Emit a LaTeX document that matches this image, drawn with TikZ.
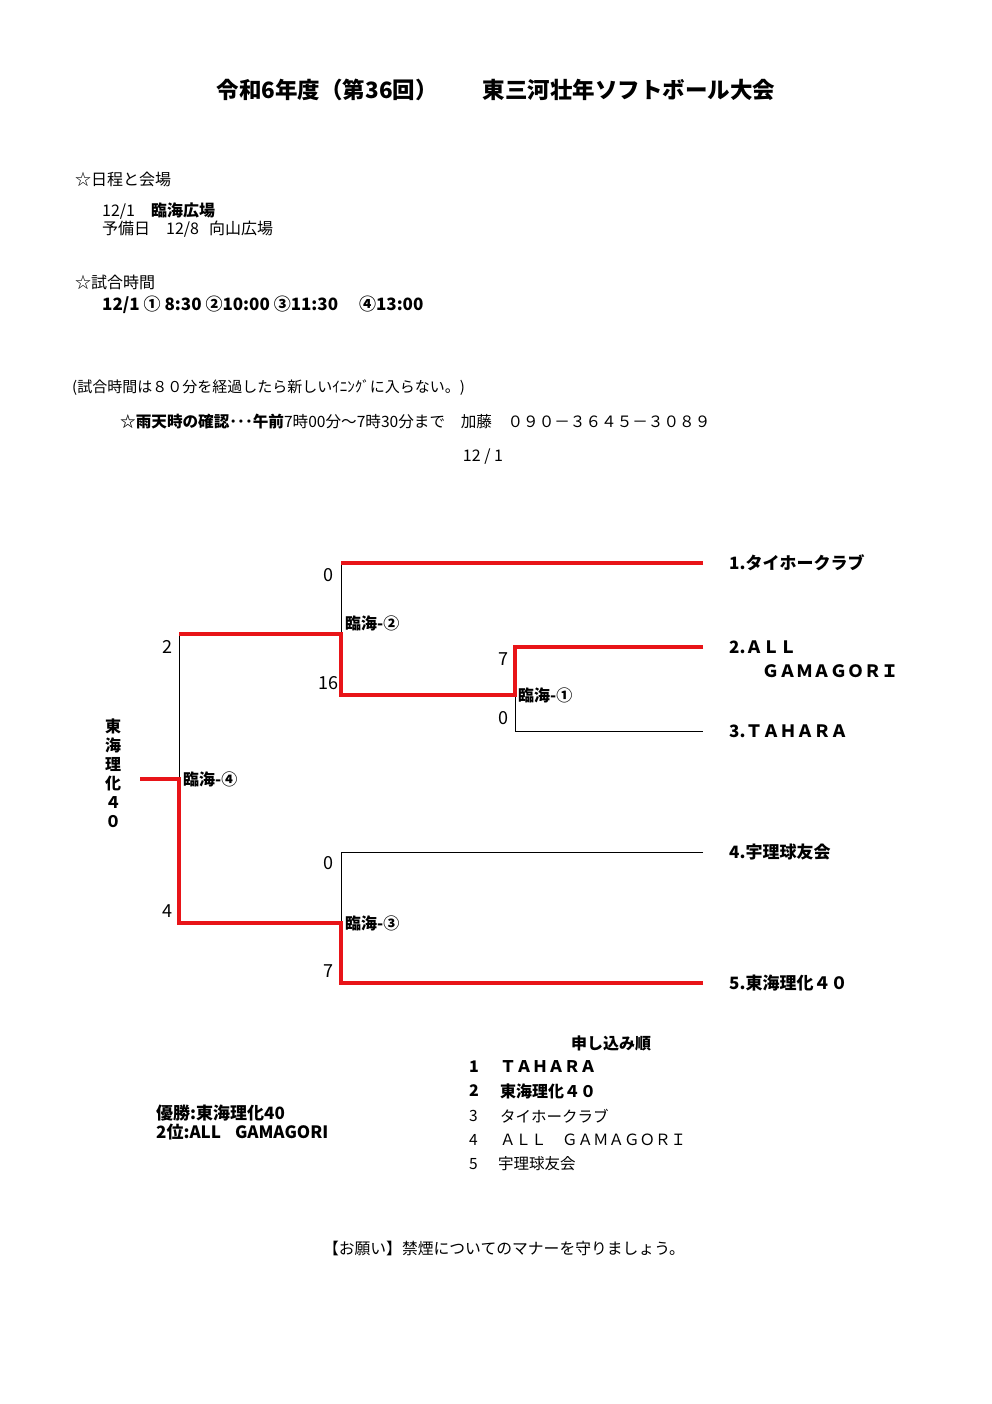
\documentclass[tikz,border=0pt]{standalone}
\usepackage{fontspec}
\setmainfont{Noto Sans CJK JP}
\definecolor{bred}{RGB}{232,20,24}
\newcommand\fsz[1]{\fontsize{#1}{#1}\selectfont}
\begin{document}
\begin{tikzpicture}[x=1pt,y=-1pt,
  txt/.style={inner sep=0pt,anchor=west},
  ctxt/.style={inner sep=0pt,anchor=center},
  redline/.style={draw=bred,line width=4pt,line join=miter},
  blkline/.style={draw=black,line width=1pt},
  team/.style={txt,font=\fsz{17}\bfseries},
  score/.style={ctxt,font=\fsz{18}},
  match/.style={txt,font=\fsz{16}\bfseries}]
\useasboundingbox (0,0) rectangle (992,1404);
\fill[white] (0,0) rectangle (992,1404);
% title
\node[ctxt,font=\fsz{22.5}\bfseries] (title) at (496,90) {令和6年度（第36回）　　東三河壮年ソフトボール大会};
% header
\node[txt,font=\fsz{16}] (h1) at (75,179) {☆日程と会場};
\node[txt,font=\fsz{16}] (h2) at (102,211) {12/1　\textbf{臨海広場}};
\node[txt,font=\fsz{16}] (h3) at (102,229) {予備日　12/8\hspace{10pt}向山広場};
\node[txt,font=\fsz{16}] (h4) at (75,282) {☆試合時間};
\node[txt,font=\fsz{17}\bfseries] (h5) at (102,305) {12/1 ① 8:30  ②10:00  ③11:30 　④13:00};
\node[txt,font=\fsz{15}] (h6) at (72,388) {(試合時間は８０分を経過したら新しいｲﾆﾝｸﾞに入らない。)};
\node[txt,font=\fsz{15.6}] (h7) at (120,422) {\textbf{☆雨天時の確認･･･午前}7時00分～7時30分まで　加藤　０９０－３６４５－３０８９};
\node[ctxt,font=\fsz{16}] (h8) at (483,457) {12 / 1};
% bracket coordinates
\coordinate (t1) at (703,563);
\coordinate (t2) at (703,647);
\coordinate (t3) at (703,731);
\coordinate (t4) at (703,852);
\coordinate (t5) at (703,983);
\coordinate (m1t) at (515,647);
\coordinate (m1) at (515,695);
\coordinate (m1b) at (515,731);
\coordinate (m2t) at (341,563);
\coordinate (m2) at (341,634);
\coordinate (m2b) at (341,695);
\coordinate (m3t) at (341,852);
\coordinate (m3) at (341,923);
\coordinate (m3b) at (341,983);
\coordinate (m4t) at (179,634);
\coordinate (m4) at (179,779);
\coordinate (m4b) at (179,923);
\coordinate (champ) at (140,779);
% black lines
\draw[blkline] (m1) -- (m1b) -- (t3);
\draw[blkline] (m2t) -- (m2);
\draw[blkline] (t4) -- (m3t) -- (m3);
\draw[blkline] (m4t) -- (m4);
% red lines
\draw[redline] (t1) -- (m2t);
\draw[redline] (t2) -- (m1t) -- (m1) -- (m2b) -- (m2) -- (m4t);
\draw[redline] (t5) -- (m3b) -- (m3) -- (m4b) -- (m4) -- (champ);
% team labels
\node[team] (n1) at (729,563) {1.タイホークラブ};
\node[team] (n2) at (729,647) {2.ＡＬＬ};
\node[team] (n2b) at (762,671) {ＧＡＭＡＧＯＲＩ};
\node[team] (n3) at (729,731) {3.ＴＡＨＡＲＡ};
\node[team] (n4) at (729,852) {4.宇理球友会};
\node[team] (n5) at (729,983) {5.東海理化４０};
% match labels
\node[match] (k1) at (518,695) {臨海-①};
\node[match] (k2) at (345,623) {臨海-②};
\node[match] (k3) at (345,923) {臨海-③};
\node[match] (k4) at (183,779) {臨海-④};
% scores
\node[score] (s1a) at (503,659) {7};
\node[score] (s1b) at (503,718) {0};
\node[score] (s2a) at (328,575) {0};
\node[score] (s2b) at (328,683) {16};
\node[score] (s3a) at (328,863) {0};
\node[score] (s3b) at (328,971) {7};
\node[score] (s4a) at (167,647) {2};
\node[score] (s4b) at (167,911) {4};
% champion vertical
\node[ctxt,font=\fsz{16}\bfseries,align=center] (v) at (113,773) {東\\[3pt]海\\[3pt]理\\[3pt]化\\[3pt]４\\[3pt]０};
% results
\node[txt,font=\fsz{17}\bfseries] (r1) at (156,1113) {優勝:東海理化40};
\node[txt,font=\fsz{17}\bfseries] (r2) at (156,1132) {2位:ALL\hspace{14pt}GAMAGORI};
% entry order
\node[ctxt,font=\fsz{16}\bfseries] (e0) at (611,1043) {申し込み順};
\node[txt,font=\fsz{16}\bfseries] (e1n) at (469,1067) {1};
\node[txt,font=\fsz{16}\bfseries] (e1) at (500,1067) {ＴＡＨＡＲＡ};
\node[txt,font=\fsz{16}\bfseries] (e2n) at (469,1091) {2};
\node[txt,font=\fsz{16}\bfseries] (e2) at (500,1091) {東海理化４０};
\node[txt,font=\fsz{15.5}] (e3n) at (469,1116) {3};
\node[txt,font=\fsz{15.5}] (e3) at (500,1116) {タイホークラブ};
\node[txt,font=\fsz{15.5}] (e4n) at (469,1140) {4};
\node[txt,font=\fsz{15.5}] (e4) at (500,1140) {ＡＬＬ　ＧＡＭＡＧＯＲＩ};
\node[txt,font=\fsz{15.5}] (e5n) at (469,1164) {5};
\node[txt,font=\fsz{15.5}] (e5) at (498,1164) {宇理球友会};
% note
\node[ctxt,font=\fsz{15.8}] (note) at (504,1248) {【お願い】禁煙についてのマナーを守りましょう。};
\end{tikzpicture}
\end{document}
